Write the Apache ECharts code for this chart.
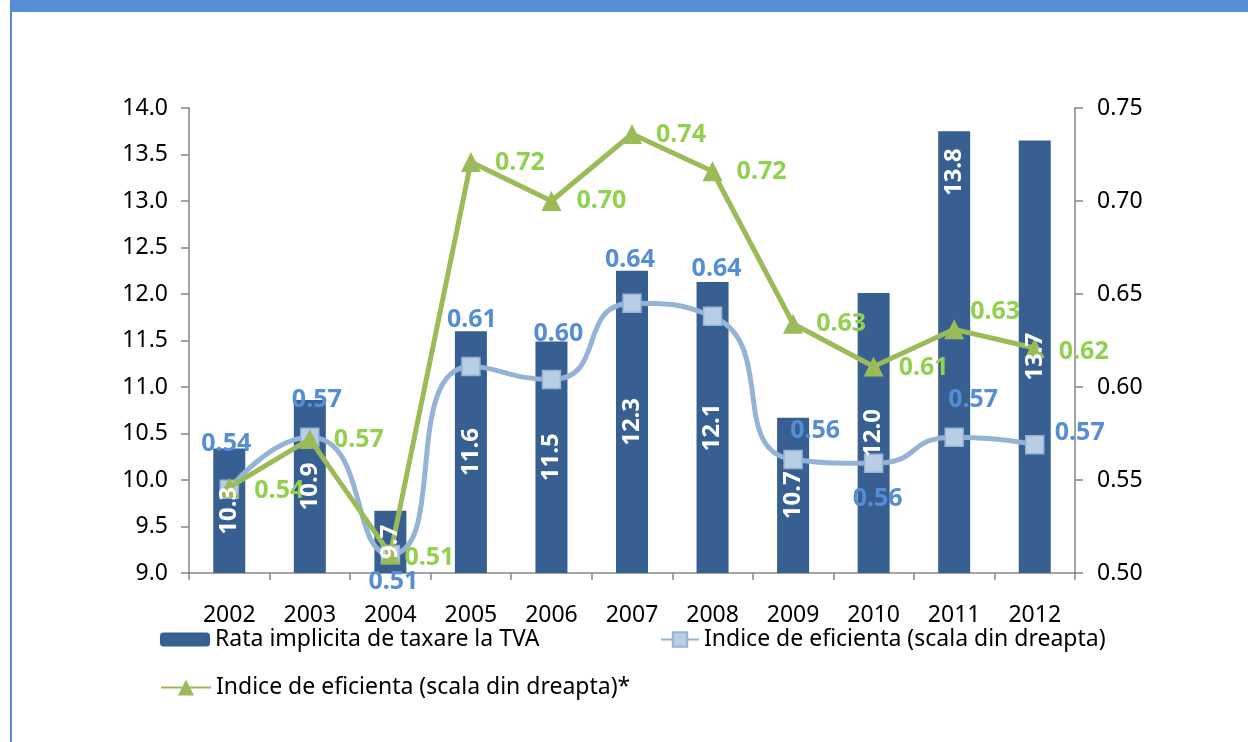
<!DOCTYPE html>
<html>
<head>
<meta charset="utf-8">
<script src="https://cdn.jsdelivr.net/npm/echarts@6/dist/echarts.min.js"></script>
<style>
html,body{margin:0;padding:0;background:#fff;}
#chart{width:1248px;height:742px;}
</style>
</head>
<body>
<div id="chart"></div>
<script>
// ---- data ----
const categories = ['2002','2003','2004','2005','2006','2007','2008','2009','2010','2011','2012'];
const rataTVA = [10.34, 10.86, 9.67, 11.6, 11.49, 12.25, 12.13, 10.67, 12.01, 13.75, 13.65];
const rataLabels = ['10.3','10.9','9.7','11.6','11.5','12.3','12.1','10.7','12.0','13.8','13.7'];
const indiceEf = [0.545, 0.573, 0.510, 0.611, 0.604, 0.645, 0.638, 0.561, 0.559, 0.573, 0.569];
const indiceEfLabels = ['0.54','0.57','0.51','0.61','0.60','0.64','0.64','0.56','0.56','0.57','0.57'];
const indiceEfStar = [0.546, 0.572, 0.510, 0.721, 0.700, 0.736, 0.716, 0.634, 0.611, 0.631, 0.621];
const indiceEfStarLabels = ['0.54','0.57','0.51','0.72','0.70','0.74','0.72','0.63','0.61','0.63','0.62'];
const leftTicks = {min: 9, max: 14, interval: 0.5};
const rightTicks = {min: 0.5, max: 0.75, interval: 0.05};
const seriesNames = ['Rata implicita de taxare la TVA','Indice de eficienta (scala din dreapta)','Indice de eficienta (scala din dreapta)*'];

// ---- label placement (style, not data) ----
const blueLabelOffsets = [[-3,-45],[7,-37],[3,27],[1,-47],[7,-46],[-2,-43],[4,-47],[22,-29],[4,36],[19,-37],[45,-12]];
const greenLabelOffsets = [[50,3],[49,1],[39,3],[49,1],[50,0],[49,1],[49,1],[48,0],[50,1],[41,-17],[49,4]];
const barLabelOffsets = [[0,0],[0,0],[0,0],[0,0],[0,0],[0,0],[0,0],[0,0],[0,0],[180,0],[0,0]];

const FONT = 'Noto Sans';
const barColor = '#375f92';
const blueLine = '#95b3d7';
const blueMarker = '#b9cde5';
const blueText = '#558ed5';
const greenLine = '#9bbb59';
const greenText = '#92d050';

const chart = echarts.init(document.getElementById('chart'), null, {renderer: 'canvas'});

const barLabelData = rataTVA.map((v, i) => ({
  value: v,
  label: {offset: barLabelOffsets[i], formatter: rataLabels[i]}
}));
const blueData = indiceEf.map((v, i) => ({
  value: v,
  label: {offset: blueLabelOffsets[i], formatter: indiceEfLabels[i]}
}));
const greenData = indiceEfStar.map((v, i) => ({
  value: v,
  label: {offset: greenLabelOffsets[i], formatter: indiceEfStarLabels[i]}
}));

const legendText = {fontFamily: FONT, fontSize: 23, color: '#000'};

const option = {
  animation: false,
  textStyle: {fontFamily: FONT},
  graphic: [
    {type: 'rect', shape: {x: 10, y: 0, width: 1238, height: 12}, style: {fill: '#558ed5'}, silent: true},
    {type: 'line', shape: {x1: 11, y1: 0, x2: 11, y2: 742}, style: {stroke: '#558ed5', lineWidth: 2}, silent: true}
  ],
  grid: {left: 189, right: 173, top: 108, bottom: 169, containLabel: false},
  legend: [
    {data: [seriesNames[0]], left: 160, top: 628, itemWidth: 50, itemHeight: 14, textStyle: legendText, padding: 0, itemGap: 0},
    {data: [seriesNames[1]], left: 660, top: 628, itemWidth: 38, itemHeight: 18, textStyle: legendText, padding: 0, itemGap: 0},
    {data: [seriesNames[2]], left: 160, top: 676, itemWidth: 50, itemHeight: 20, textStyle: legendText, padding: 0, itemGap: 0}
  ],
  xAxis: {
    type: 'category',
    data: categories,
    boundaryGap: true,
    axisLine: {lineStyle: {color: '#868686', width: 1.5}},
    axisTick: {show: true, length: 7, lineStyle: {color: '#868686', width: 1.5}},
    axisLabel: {fontFamily: FONT, fontSize: 23, color: '#000', margin: 31}
  },
  yAxis: [
    {
      type: 'value',
      position: 'left',
      min: leftTicks.min, max: leftTicks.max, interval: leftTicks.interval,
      splitLine: {show: false},
      axisLine: {show: true, lineStyle: {color: '#868686', width: 1.5}},
      axisTick: {show: true, length: 8, lineStyle: {color: '#868686', width: 1.5}},
      axisLabel: {fontFamily: FONT, fontSize: 23, color: '#000', margin: 21, formatter: v => v.toFixed(1)}
    },
    {
      type: 'value',
      position: 'right',
      min: rightTicks.min, max: rightTicks.max, interval: rightTicks.interval,
      splitLine: {show: false},
      axisLine: {show: true, lineStyle: {color: '#868686', width: 1.5}},
      axisTick: {show: true, length: 8, lineStyle: {color: '#868686', width: 1.5}},
      axisLabel: {fontFamily: FONT, fontSize: 23, color: '#000', margin: 22, formatter: v => v.toFixed(2)}
    }
  ],
  series: [
    {
      name: seriesNames[0],
      type: 'bar',
      yAxisIndex: 0,
      barWidth: 32,
      itemStyle: {color: barColor},
      data: rataTVA,
      z: 1
    },
    {
      name: seriesNames[1],
      type: 'line',
      yAxisIndex: 1,
      smooth: 0.6,
      symbol: 'rect',
      symbolSize: 18,
      showAllSymbol: true,
      lineStyle: {color: blueLine, width: 5},
      itemStyle: {color: blueMarker, borderColor: blueLine, borderWidth: 1.5},
      data: blueData,
      z: 3,
      label: {
        show: true,
        position: 'inside',
        color: blueText,
        fontFamily: FONT,
        fontWeight: 'bold',
        fontSize: 25
      }
    },
    {
      name: seriesNames[2],
      type: 'line',
      yAxisIndex: 1,
      symbol: 'triangle',
      symbolSize: 20,
      showAllSymbol: true,
      lineStyle: {color: greenLine, width: 5},
      itemStyle: {color: greenLine},
      data: greenData,
      z: 4,
      label: {
        show: true,
        position: 'inside',
        color: greenText,
        fontFamily: FONT,
        fontWeight: 'bold',
        fontSize: 25
      }
    },
    {
      // transparent overlay carrying the bar value labels on top of the markers
      name: 'barLabels',
      type: 'bar',
      yAxisIndex: 0,
      barWidth: 32,
      barGap: '-100%',
      itemStyle: {color: 'rgba(0,0,0,0)'},
      data: barLabelData,
      z: 6,
      silent: true,
      label: {
        show: true,
        position: 'inside',
        rotate: 90,
        overflow: 'none',
        color: '#fff',
        fontFamily: FONT,
        fontWeight: 'bold',
        fontSize: 24
      }
    }
  ]
};
chart.setOption(option);
</script>
</body>
</html>
